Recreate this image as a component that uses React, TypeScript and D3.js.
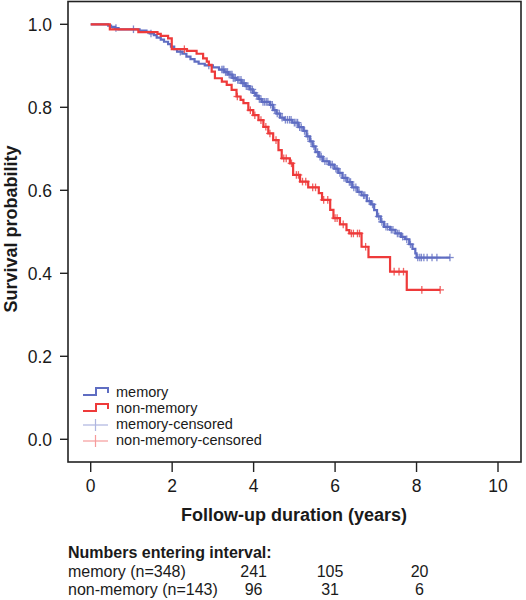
import React from "react";
import * as d3 from "d3";

// ---- data ----
const memoryTimes = [0.43, 0.5, 0.6, 0.68, 1.2, 1.37, 1.45, 1.55, 1.62, 1.72, 1.8, 1.9, 1.97, 2.05, 2.12, 2.25, 2.35, 2.45, 2.55, 2.65, 2.8, 3.0, 3.15, 3.28, 3.38, 3.48, 3.58, 3.7, 3.8, 3.9, 3.98, 4.05, 4.12, 4.2, 4.4, 4.48, 4.56, 4.65, 4.75, 4.95, 5.1, 5.22, 5.3, 5.38, 5.45, 5.52, 5.6, 5.7, 5.85, 5.98, 6.08, 6.18, 6.3, 6.42, 6.55, 6.65, 6.78, 6.88, 6.96, 7.03, 7.12, 7.2, 7.35, 7.48, 7.62, 7.72, 7.82, 7.9, 7.97, 8.0];
const memorySurv = [0.997, 0.994, 0.991, 0.988, 0.985, 0.982, 0.978, 0.974, 0.968, 0.963, 0.958, 0.952, 0.946, 0.94, 0.934, 0.929, 0.922, 0.916, 0.91, 0.905, 0.901, 0.896, 0.891, 0.885, 0.879, 0.871, 0.866, 0.858, 0.851, 0.843, 0.835, 0.828, 0.82, 0.813, 0.806, 0.793, 0.785, 0.775, 0.77, 0.763, 0.752, 0.743, 0.73, 0.718, 0.706, 0.692, 0.681, 0.67, 0.662, 0.652, 0.642, 0.63, 0.62, 0.607, 0.596, 0.588, 0.574, 0.566, 0.552, 0.537, 0.524, 0.512, 0.505, 0.496, 0.488, 0.482, 0.47, 0.459, 0.448, 0.438];
const memoryEnd = 8.82;
const memoryCensor = [0.62, 1.05, 1.48, 2.2, 2.9, 3.22, 3.25, 3.27, 3.31, 3.34, 3.36, 3.4, 3.44, 3.47, 3.5, 3.52, 3.55, 3.61, 3.64, 3.69, 3.73, 3.75, 3.77, 3.82, 3.86, 3.93, 3.97, 4.02, 4.08, 4.14, 4.18, 4.23, 4.27, 4.31, 4.35, 4.42, 4.46, 4.52, 4.58, 4.63, 4.7, 4.78, 4.83, 4.88, 4.92, 5.0, 5.04, 5.08, 5.13, 5.17, 5.25, 5.33, 5.41, 5.48, 5.57, 5.63, 5.66, 5.75, 5.8, 5.89, 5.93, 6.02, 6.05, 6.12, 6.22, 6.26, 6.35, 6.38, 6.46, 6.51, 6.59, 6.7, 6.73, 6.84, 6.92, 7.07, 7.15, 7.25, 7.29, 7.38, 7.42, 7.53, 7.57, 7.66, 7.76, 7.85, 8.03, 8.08, 8.12, 8.18, 8.26, 8.38, 8.5, 8.82];

const nonMemoryTimes = [0.47, 1.17, 1.64, 1.72, 1.9, 1.99, 2.36, 2.6, 2.76, 2.85, 2.9, 2.97, 3.05, 3.22, 3.34, 3.46, 3.58, 3.68, 3.75, 3.87, 3.99, 4.12, 4.24, 4.36, 4.48, 4.61, 4.69, 4.89, 4.97, 5.14, 5.34, 5.6, 5.68, 5.88, 5.96, 6.12, 6.28, 6.35, 6.65, 6.82, 7.35, 7.76];
const nonMemorySurv = [0.988, 0.981, 0.977, 0.972, 0.966, 0.94, 0.936, 0.929, 0.918, 0.91, 0.902, 0.886, 0.87, 0.862, 0.854, 0.842, 0.826, 0.818, 0.81, 0.793, 0.781, 0.769, 0.753, 0.737, 0.721, 0.697, 0.677, 0.665, 0.637, 0.621, 0.607, 0.593, 0.577, 0.553, 0.533, 0.518, 0.504, 0.496, 0.464, 0.439, 0.404, 0.36];
const nonMemoryEnd = 8.58;
const nonMemoryCensor = [2.3, 3.6, 3.92, 4.03, 4.18, 4.3, 4.4, 4.55, 4.74, 4.8, 4.93, 5.05, 5.1, 5.2, 5.28, 5.45, 5.52, 5.72, 5.82, 6.0, 6.05, 6.2, 6.4, 6.45, 6.55, 6.6, 6.75, 7.45, 7.57, 7.68, 8.13, 8.58];

const xTicks = [0, 2, 4, 6, 8, 10];
const yTicks = [0, 0.2, 0.4, 0.6, 0.8, 1.0];
const legendLabels = ["memory", "non-memory", "memory-censored", "non-memory-censored"];
const intervalTimes = [4, 6, 8];
const memoryAtRisk = [241, 105, 20];
const nonMemoryAtRisk = [96, 31, 6];
const rowLabels = ["memory (n=348)", "non-memory (n=143)"];

// ---- layout / style ----
const W = 526, H = 600;
const frame = { left: 68, right: 521, top: 1.5, bottom: 462 };
const BLUE = "#5f6dc2";
const RED = "#ee3a3a";
const FONT = "'Liberation Sans', Arial, Helvetica, sans-serif";
const colDx = [0, -5, 3];

const x = d3.scaleLinear().domain([0, 10]).range([90.7, 498]);
const y = d3.scaleLinear().domain([0, 1]).range([439.3, 24.3]);

function stepPoints(times: number[], surv: number[], end: number): [number, number][] {
  const pts: [number, number][] = [[0, 1]];
  times.forEach((t, i) => pts.push([t, surv[i]]));
  pts.push([end, surv[surv.length - 1]]);
  return pts;
}

function survAt(times: number[], surv: number[], t: number): number {
  const i = d3.bisectRight(times, t);
  return i === 0 ? 1 : surv[i - 1];
}

const line = d3
  .line<[number, number]>()
  .x((d) => x(d[0]))
  .y((d) => y(d[1]))
  .curve(d3.curveStepAfter);

function Censors({ times, surv, censor, color }: { times: number[]; surv: number[]; censor: number[]; color: string }) {
  const s = 3.8;
  return (
    <g stroke={color} strokeWidth={1.3} opacity={0.8}>
      {censor.map((c, i) => {
        const cx = x(c);
        const cy = y(survAt(times, surv, c));
        return (
          <g key={i}>
            <line x1={cx - s} x2={cx + s} y1={cy} y2={cy} />
            <line x1={cx} x2={cx} y1={cy - s} y2={cy + s} />
          </g>
        );
      })}
    </g>
  );
}

export default function App() {
  const memPts = stepPoints(memoryTimes, memorySurv, memoryEnd);
  const nonPts = stepPoints(nonMemoryTimes, nonMemorySurv, nonMemoryEnd);
  const legendY = [392, 408, 424, 440];
  const textColor = "#1a1a1a";

  return (
    <svg
      width={W}
      height={H}
      viewBox={`0 0 ${W} ${H}`}
      style={{ position: "absolute", left: 0, top: 0, background: "#fff" }}
      fontFamily={FONT}
    >
      <rect x={0} y={0} width={W} height={H} fill="#fff" />

      {/* curves */}
      <path d={line(memPts) ?? ""} fill="none" stroke={BLUE} strokeWidth={2.2} />
      <Censors times={memoryTimes} surv={memorySurv} censor={memoryCensor} color={BLUE} />
      <path d={line(nonPts) ?? ""} fill="none" stroke={RED} strokeWidth={2.2} />
      <Censors times={nonMemoryTimes} surv={nonMemorySurv} censor={nonMemoryCensor} color={RED} />

      {/* frame */}
      <rect
        x={frame.left}
        y={frame.top}
        width={frame.right - frame.left}
        height={frame.bottom - frame.top}
        fill="none"
        stroke="#222"
        strokeWidth={1.6}
      />

      {/* y axis */}
      {yTicks.map((t) => (
        <g key={t}>
          <line x1={60} x2={frame.left} y1={y(t)} y2={y(t)} stroke="#222" strokeWidth={1.4} />
          <text x={52} y={y(t)} dy="0.36em" textAnchor="end" fontSize={17.5} fill={textColor}>
            {t.toFixed(1)}
          </text>
        </g>
      ))}
      <text
        transform={`translate(16.5,229) rotate(-90)`}
        textAnchor="middle"
        fontSize={18}
        fontWeight="bold"
        fill={textColor}
      >
        Survival probability
      </text>

      {/* x axis */}
      {xTicks.map((t) => (
        <g key={t}>
          <line x1={x(t)} x2={x(t)} y1={frame.bottom} y2={472} stroke="#222" strokeWidth={1.4} />
          <text x={x(t)} y={492} textAnchor="middle" fontSize={17.5} fill={textColor}>
            {t}
          </text>
        </g>
      ))}
      <text x={294} y={521} textAnchor="middle" fontSize={18} fontWeight="bold" fill={textColor}>
        Follow-up duration (years)
      </text>

      {/* legend */}
      <g>
        <path d={`M83,${legendY[0] + 3}H96V${legendY[0] - 4}H108V${legendY[0] + 1}`} fill="none" stroke={BLUE} strokeWidth={2} />
        <path d={`M83,${legendY[1] + 3}H96V${legendY[1] - 4}H108V${legendY[1] + 1}`} fill="none" stroke={RED} strokeWidth={2} />
        <g stroke={BLUE} strokeWidth={1.2} opacity={0.5}>
          <line x1={83} x2={108} y1={legendY[2] + 1} y2={legendY[2] + 1} />
          <line x1={95.5} x2={95.5} y1={legendY[2] - 5} y2={legendY[2] + 7} />
        </g>
        <g stroke={RED} strokeWidth={1.2} opacity={0.5}>
          <line x1={83} x2={108} y1={legendY[3] + 1} y2={legendY[3] + 1} />
          <line x1={95.5} x2={95.5} y1={legendY[3] - 5} y2={legendY[3] + 7} />
        </g>
        {legendLabels.map((l, i) => (
          <text key={l} x={116} y={legendY[i]} dy="0.35em" fontSize={14.5} fill={textColor}>
            {l}
          </text>
        ))}
      </g>

      {/* numbers entering interval */}
      <text x={68} y={558} fontSize={16} fontWeight="bold" fill={textColor}>
        Numbers entering interval:
      </text>
      <text x={68} y={577} fontSize={16} fill={textColor}>
        {rowLabels[0]}
      </text>
      <text x={68} y={595} fontSize={16} fill={textColor}>
        {rowLabels[1]}
      </text>
      {intervalTimes.map((t, i) => (
        <g key={t}>
          <text x={x(t) + colDx[i]} y={577} textAnchor="middle" fontSize={16} fill={textColor}>
            {memoryAtRisk[i]}
          </text>
          <text x={x(t) + colDx[i]} y={595} textAnchor="middle" fontSize={16} fill={textColor}>
            {nonMemoryAtRisk[i]}
          </text>
        </g>
      ))}
    </svg>
  );
}
